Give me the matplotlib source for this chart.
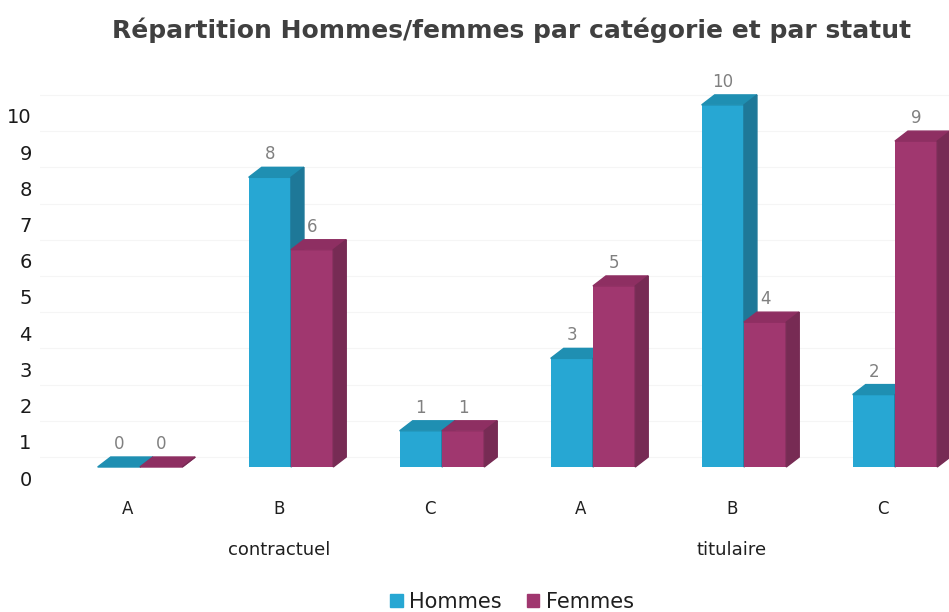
import matplotlib
matplotlib.use('Agg')
import matplotlib.pyplot as plt
import matplotlib.transforms as mtransforms
from matplotlib.patches import Polygon, Patch

# data
statuts = ['contractuel', 'titulaire']
categories = ['A', 'B', 'C', 'A', 'B', 'C']
hommes = [0, 8, 1, 3, 10, 2]
femmes = [0, 6, 1, 5, 4, 9]

# colours (front / top / side)
c_h = ('#27a7d3', '#1f8fb2', '#1e7898')
c_f = ('#a0376f', '#8e2f62', '#772b54')

fig = plt.figure(figsize=(9.49, 6.12), dpi=100)
W, H = 949, 612
ax = fig.add_axes([40 / W, (H - 490) / H, (W - 40) / W, (490 - 60) / H])
ax.set_xlim(-0.662, 5.358)
ax.set_ylim(-0.635, 11.24)

# depth of the fake 3d boxes, given in pixels
dx = 13 * (5.358 + 0.662) / ax.bbox.width
dy = 10 * (11.24 + 0.635) / ax.bbox.height
w = 0.28


def box(x0, h, cols):
    ax.bar(x0, h, width=w, align='edge', color=cols[0], zorder=2)
    ax.add_patch(Polygon([(x0, h), (x0 + w, h), (x0 + w + dx, h + dy), (x0 + dx, h + dy)],
                         closed=True, color=cols[1], zorder=2))
    ax.add_patch(Polygon([(x0 + w, 0), (x0 + w + dx, dy), (x0 + w + dx, h + dy), (x0 + w, h)],
                         closed=True, color=cols[2], zorder=2))
    ax.annotate(str(h), (x0 + w / 2, h), xytext=(0, 16.5), textcoords='offset points',
                ha='center', va='center', fontsize=12, color='#808080', zorder=3)


for i in range(len(categories)):
    box(i - w, hommes[i], c_h)
    box(i, femmes[i], c_f)

# faint grid
for k in range(11):
    ax.axhline(k + dy, color='#f5f5f5', lw=0.8, zorder=0)

for s in ax.spines.values():
    s.set_visible(False)
ax.tick_params(length=0)

ax.set_xticks(range(len(categories)))
ax.set_xticklabels(categories, fontsize=12, color='#1f1f1f')
ax.tick_params(axis='x', pad=7)
shift_x = mtransforms.ScaledTranslation(-12 / 100, 0, fig.dpi_scale_trans)
for lab in ax.get_xticklabels():
    lab.set_transform(lab.get_transform() + shift_x)

ax.set_yticks(range(11))
ax.set_yticklabels([str(k) for k in range(11)], fontsize=14, color='#1a1a1a')
ax.tick_params(axis='y', pad=6)
shift_y = mtransforms.ScaledTranslation(0, -11 / 100, fig.dpi_scale_trans)
for lab in ax.get_yticklabels():
    lab.set_transform(lab.get_transform() + shift_y)

# group labels under the categories
trans = mtransforms.blended_transform_factory(ax.transData, fig.transFigure) + shift_x
for j, st in enumerate(statuts):
    ax.text(1 + 3 * j, 1 - 550 / H, st, transform=trans, ha='center', va='center',
            fontsize=13, color='#1f1f1f')

fig.text(512 / W, 1 - 30 / H, 'Répartition Hommes/femmes par catégorie et par statut',
         ha='center', va='center', fontsize=18, fontweight='bold', color='#404040')

handles = [Patch(color=c_h[0], label='Hommes'), Patch(color=c_f[0], label='Femmes')]
fig.legend(handles=handles, ncol=2, loc='center', bbox_to_anchor=(512 / W, 1 - 602 / H),
           frameon=False, fontsize=15, handlelength=0.6, handleheight=0.6,
           handletextpad=0.3, columnspacing=1.2, labelcolor='#1f1f1f')

fig.savefig('out.png', dpi=100)
